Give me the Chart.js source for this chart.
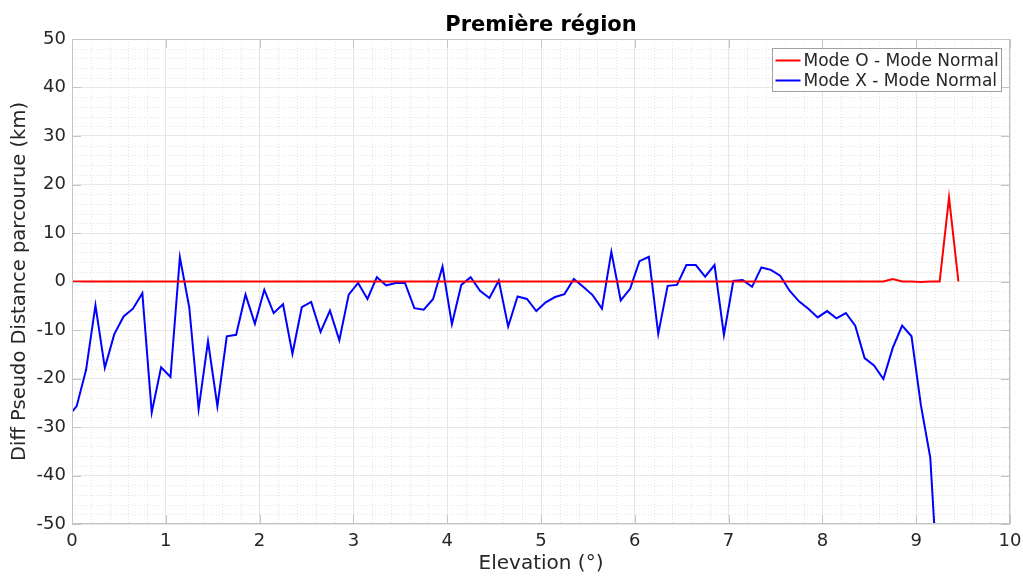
<!DOCTYPE html>
<html>
<head>
<meta charset="utf-8">
<script src="https://cdn.jsdelivr.net/npm/chart.js@4/dist/chart.umd.min.js"></script>
<style>
    html, body { margin: 0; padding: 0; background: #fff; }
    #wrap { width: 1023px; height: 576px; }
</style>
</head>
<body>
<div id="wrap"><canvas id="chart"></canvas></div>
<script>
// Elevation (°) sample positions
const elevation = [
    0, 0.05, 0.15, 0.25, 0.35, 0.45, 0.55, 0.65, 0.75, 0.85,
    0.95, 1.05, 1.15, 1.25, 1.35, 1.45, 1.55, 1.65, 1.75, 1.85,
    1.95, 2.05, 2.15, 2.25, 2.35, 2.45, 2.55, 2.65, 2.75, 2.85,
    2.95, 3.05, 3.15, 3.25, 3.35, 3.45, 3.55, 3.65, 3.75, 3.85,
    3.95, 4.05, 4.15, 4.25, 4.35, 4.45, 4.55, 4.65, 4.75, 4.85,
    4.95, 5.05, 5.15, 5.25, 5.35, 5.45, 5.55, 5.65, 5.75, 5.85,
    5.95, 6.05, 6.15, 6.25, 6.35, 6.45, 6.55, 6.65, 6.75, 6.85,
    6.95, 7.05, 7.15, 7.25, 7.35, 7.45, 7.55, 7.65, 7.75, 7.85,
    7.95, 8.05, 8.15, 8.25, 8.35, 8.45, 8.55, 8.65, 8.75, 8.85,
    8.95, 9.05, 9.15, 9.25, 9.35, 9.45
];

// Mode O - Mode Normal (km)
const modeO = [
    0, 0, 0, 0, 0, 0, 0, 0, 0, 0,
    0, 0, 0, 0, 0, 0, 0, 0, 0, 0,
    0, 0, 0, 0, 0, 0, 0, 0, 0, 0,
    0, 0, 0, 0, 0, 0, 0, 0, 0, 0,
    0, 0, 0, 0, 0, 0, 0, 0, 0, 0,
    0, 0, 0, 0, 0, 0, 0, 0, 0, 0,
    0, 0, 0, 0, 0, 0, 0, 0, 0, 0,
    0, 0, 0, 0, 0, 0, 0, 0, 0, 0,
    0, 0, 0, 0, 0, 0, 0, 0, 0.5, 0,
    0, -0.1, 0, 0, 17.3, 0
];

// Mode X - Mode Normal (km)
const modeX = [
    -26.9, -25.7, -18.2, -4.9, -17.8, -10.9, -7.2, -5.6, -2.4, -27.0,
    -17.7, -19.7, 5.0, -5.3, -26.3, -12.3, -25.7, -11.3, -11.0, -2.7,
    -8.7, -1.7, -6.5, -4.7, -14.9, -5.3, -4.2, -10.4, -6.0, -12.1,
    -2.7, -0.3, -3.6, 0.9, -0.8, -0.3, -0.3, -5.5, -5.8, -3.6,
    3.1, -8.8, -0.7, 0.9, -1.9, -3.4, 0.2, -9.3, -3.1, -3.6,
    -6.1, -4.3, -3.2, -2.6, 0.5, -1.1, -2.8, -5.6, 6.1, -3.9,
    -1.5, 4.2, 5.1, -10.8, -0.9, -0.7, 3.4, 3.4, 1.0, 3.4,
    -11.0, 0.1, 0.3, -1.1, 2.9, 2.4, 1.2, -1.9, -4.1, -5.6,
    -7.4, -6.1, -7.6, -6.5, -9.1, -15.8, -17.3, -20.1, -13.7, -9.1,
    -11.3, -25.5, -36.3, -69
];

const chartTitle = 'Première région';

const FONT = 'DejaVu Sans';
const TEXT = '#262626';
const FRAME = '#c4c4c4';

// minor dotted grid, inward tick marks, frame, title over the axes and an inside legend (matlab look)
const matlabAxes = {
    id: 'matlabAxes',
    beforeDatasetsDraw(chart) {
        const { ctx, chartArea: a, scales: { x, y } } = chart;
        ctx.save();
        ctx.strokeStyle = '#e2e2e2';
        ctx.lineWidth = 1;
        ctx.setLineDash([1, 2]);
        for (let i = 0; i <= 50; i++) {
            if (i % 5 === 0) continue;
            const px = Math.round(x.getPixelForValue(i * 0.2)) + 0.5;
            ctx.beginPath(); ctx.moveTo(px, a.top); ctx.lineTo(px, a.bottom); ctx.stroke();
        }
        for (let i = 0; i <= 50; i++) {
            if (i % 5 === 0) continue;
            const py = Math.round(y.getPixelForValue(-50 + i * 2)) + 0.5;
            ctx.beginPath(); ctx.moveTo(a.left, py); ctx.lineTo(a.right, py); ctx.stroke();
        }
        ctx.restore();
    },
    afterDatasetsDraw(chart) {
        const { ctx, chartArea: a, scales: { x, y } } = chart;
        ctx.save();
        ctx.strokeStyle = FRAME;
        ctx.lineWidth = 1;
        ctx.strokeRect(Math.round(a.left) + 0.5, Math.round(a.top) + 0.5,
            Math.round(a.right - a.left) - 1, Math.round(a.bottom - a.top) - 1);
        const tl = 9;
        x.ticks.forEach(t => {
            const px = Math.round(x.getPixelForValue(t.value)) + 0.5;
            ctx.beginPath();
            ctx.moveTo(px, a.bottom); ctx.lineTo(px, a.bottom - tl);
            ctx.moveTo(px, a.top); ctx.lineTo(px, a.top + tl);
            ctx.stroke();
        });
        y.ticks.forEach(t => {
            const py = Math.round(y.getPixelForValue(t.value)) + 0.5;
            ctx.beginPath();
            ctx.moveTo(a.left, py); ctx.lineTo(a.left + tl, py);
            ctx.moveTo(a.right, py); ctx.lineTo(a.right - tl, py);
            ctx.stroke();
        });

        // title, centred on the axes
        ctx.fillStyle = '#000';
        ctx.font = `bold 21px "${FONT}"`;
        ctx.textAlign = 'center';
        ctx.textBaseline = 'alphabetic';
        ctx.fillText(chartTitle, (a.left + a.right) / 2, 31);

        // legend box, top right inside the axes
        const boxW = 229, boxH = 43;
        const bx = Math.round(a.right - 9 - boxW) + 0.5;
        const by = Math.round(a.top + 9) + 0.5;
        ctx.fillStyle = '#fff';
        ctx.fillRect(bx, by, boxW, boxH);
        ctx.strokeStyle = '#a0a0a0';
        ctx.strokeRect(bx, by, boxW, boxH);
        ctx.font = `17px "${FONT}"`;
        ctx.textAlign = 'left';
        ctx.textBaseline = 'middle';
        chart.data.datasets.forEach((ds, i) => {
            const ly = by + 12 + i * 20;
            ctx.strokeStyle = ds.borderColor;
            ctx.lineWidth = 2;
            ctx.beginPath(); ctx.moveTo(bx + 3, ly); ctx.lineTo(bx + 28, ly); ctx.stroke();
            ctx.fillStyle = TEXT;
            ctx.fillText(ds.label, bx + 31, ly + 1);
        });
        ctx.restore();
    }
};

const ctx = document.getElementById('chart').getContext('2d');
new Chart(ctx, {
    type: 'line',
    data: {
        datasets: [
            {
                label: 'Mode O - Mode Normal',
                data: modeO.map((v, i) => ({ x: elevation[i], y: v })),
                borderColor: '#ff0000',
                borderWidth: 2,
                pointRadius: 0,
                tension: 0
            },
            {
                label: 'Mode X - Mode Normal',
                data: modeX.map((v, i) => ({ x: elevation[i], y: v })),
                borderColor: '#0000ff',
                borderWidth: 2,
                pointRadius: 0,
                tension: 0
            }
        ]
    },
    options: {
        responsive: true,
        maintainAspectRatio: false,
        animation: false,
        layout: { padding: { left: 0, right: 0, top: 39, bottom: 0 } },
        plugins: {
            legend: { display: false },
            tooltip: { enabled: false },
            title: { display: false }
        },
        scales: {
            x: {
                type: 'linear',
                min: 0,
                max: 10,
                ticks: {
                    stepSize: 1,
                    color: TEXT,
                    font: { family: FONT, size: 18 },
                    padding: 7,
                    maxRotation: 0
                },
                grid: { color: '#e6e6e6', drawTicks: false },
                border: { display: false },
                title: {
                    display: true,
                    text: 'Elevation (°)',
                    color: TEXT,
                    font: { family: FONT, size: 20 },
                    padding: { top: 0, bottom: 0 }
                },
                afterFit(scale) {
                    scale.height = 52;
                    scale.paddingRight = 13;
                }
            },
            y: {
                min: -50,
                max: 50,
                ticks: {
                    stepSize: 10,
                    color: TEXT,
                    font: { family: FONT, size: 18 },
                    padding: 6
                },
                grid: { color: '#e6e6e6', drawTicks: false },
                border: { display: false },
                title: {
                    display: true,
                    text: 'Diff Pseudo Distance parcourue (km)',
                    color: TEXT,
                    font: { family: FONT, size: 19.5 },
                    padding: { top: 8, bottom: 0 }
                },
                afterFit(scale) { scale.width = 72; }
            }
        }
    },
    plugins: [matlabAxes]
});
</script>
</body>
</html>
